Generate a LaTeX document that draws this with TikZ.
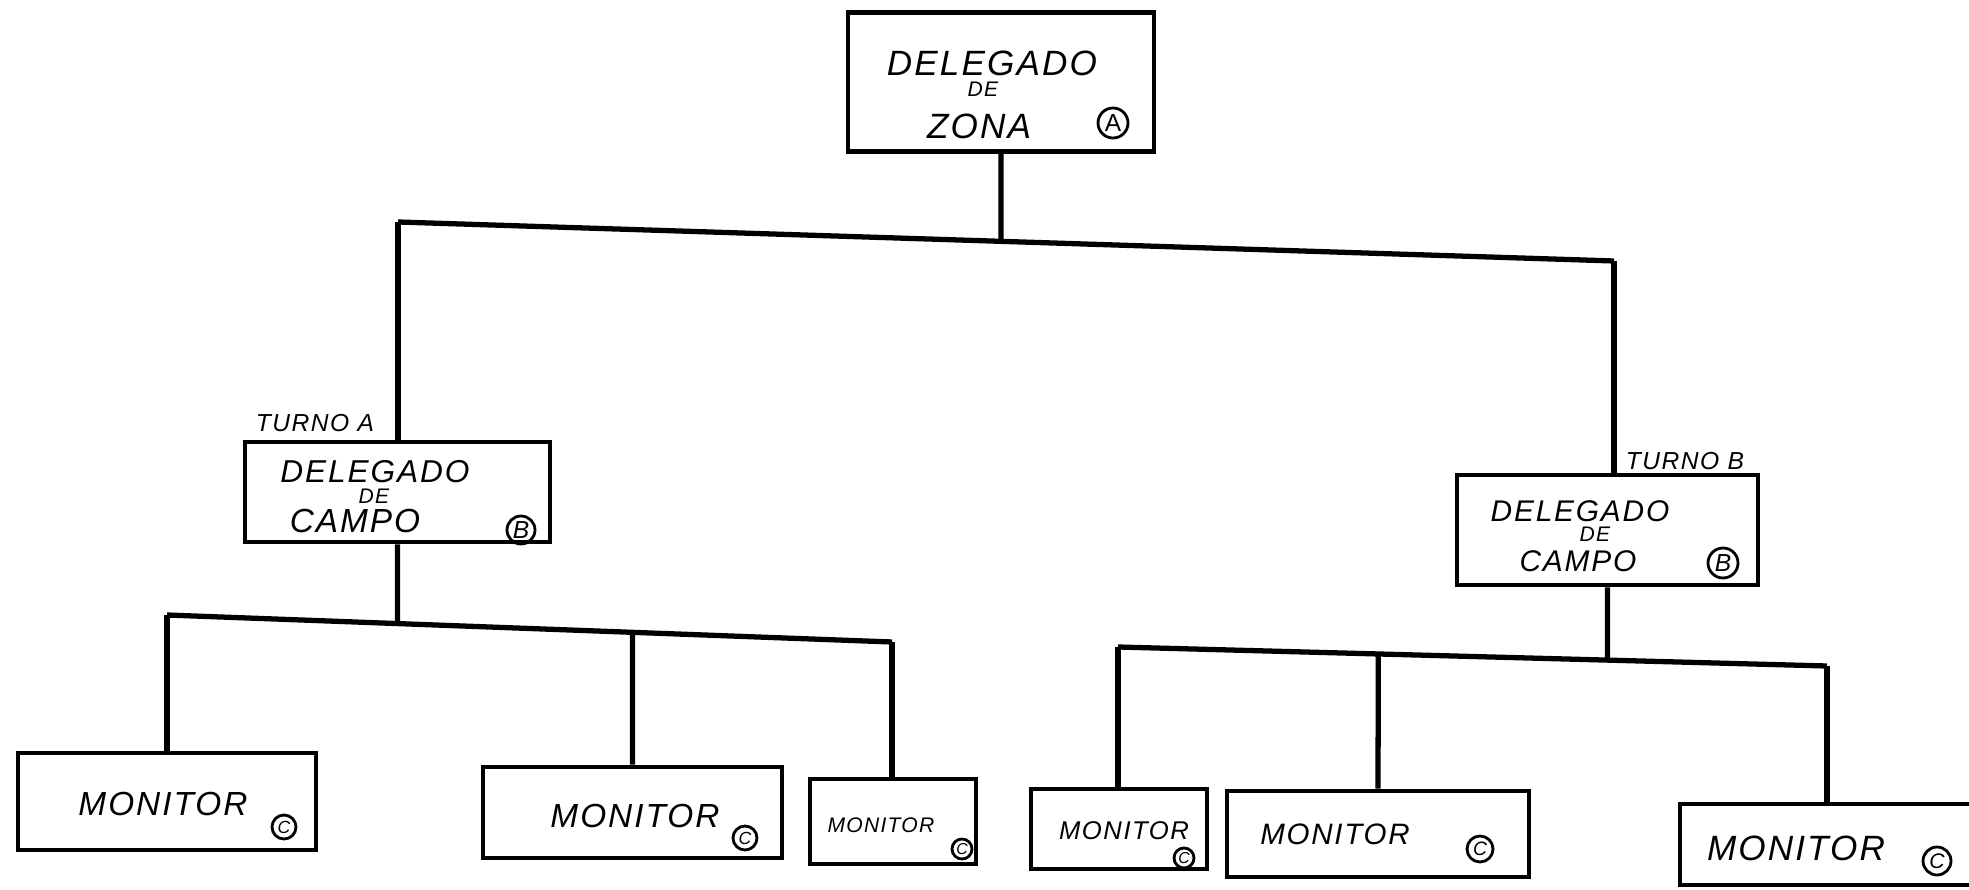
\documentclass[tikz,border=0pt]{standalone}
\usepackage{fontspec}
\setmainfont{Liberation Sans}[LetterSpace=6]
\usetikzlibrary{positioning, calc}

\newcommand{\fs}[1]{\fontsize{#1}{#1}\selectfont}

\begin{document}
\begin{tikzpicture}[
  box/.style={draw, line width=1.3pt, inner sep=0pt},
  link/.style={draw, line width=1.5pt},
  word/.style={inner sep=0pt, font=\itshape},
  tag/.style={draw, circle, line width=0.8pt, inner sep=0pt, minimum size=#1},
  tag/.default=0.24cm
  ]
  \useasboundingbox (0,0) rectangle (19.69,8.89);

  % delegado de zona
  \node[box, minimum width=3.06cm, minimum height=1.39cm] (zona) at (10.01,8.07) {};
  \node[word, font=\itshape\fs{10}] (zona1) at (9.92,8.26) {DELEGADO};
  \node[word, font=\itshape\fs{6}]  (zona2) at (9.83,8.00) {DE};
  \node[word, font=\itshape\fs{10}] (zona3) at (9.79,7.63) {ZONA};
  \node[tag=0.30cm, font=\fs{7}]    (zonaT) at (11.13,7.66) {A};

  % delegados de campo
  \node[box, minimum width=3.05cm, minimum height=1.00cm] (campoA) at (3.975,3.97) {};
  \node[word, font=\itshape\fs{9}]   (campoA1) at (3.75,4.17) {DELEGADO};
  \node[word, font=\itshape\fs{6}]   (campoA2) at (3.74,3.93) {DE};
  \node[word, font=\itshape\fs{9.5}] (campoA3) at (3.55,3.68) {CAMPO};
  \node[tag=0.28cm, font=\itshape\fs{7}] (campoAT) at (5.21,3.59) {B};
  \node[word, font=\itshape\fs{7}]   (turnoA) at (3.15,4.66) {TURNO A};

  \node[box, minimum width=3.01cm, minimum height=1.10cm] (campoB) at (16.075,3.59) {};
  \node[word, font=\itshape\fs{8.5}] (campoB1) at (15.80,3.78) {DELEGADO};
  \node[word, font=\itshape\fs{6}]   (campoB2) at (15.95,3.55) {DE};
  \node[word, font=\itshape\fs{8.5}] (campoB3) at (15.78,3.28) {CAMPO};
  \node[tag=0.30cm, font=\itshape\fs{7}] (campoBT) at (17.23,3.26) {B};
  \node[word, font=\itshape\fs{7}]   (turnoB) at (16.85,4.28) {TURNO B};

  % monitores
  \node[box, minimum width=2.98cm, minimum height=0.97cm] (m1) at (1.67,0.875) {};
  \node[word, font=\itshape\fs{9.5}] (m1w) at (1.63,0.85) {MONITOR};
  \node[tag, font=\itshape\fs{5}]    (m1t) at (2.84,0.62) {C};

  \node[box, minimum width=2.99cm, minimum height=0.91cm] (m2) at (6.325,0.765) {};
  \node[word, font=\itshape\fs{9.5}] (m2w) at (6.35,0.73) {MONITOR};
  \node[tag, font=\itshape\fs{5}]    (m2t) at (7.45,0.51) {C};

  \node[box, minimum width=1.66cm, minimum height=0.85cm] (m3) at (8.93,0.675) {};
  \node[word, font=\itshape\fs{6}]   (m3w) at (8.81,0.64) {MONITOR};
  \node[tag=0.20cm, font=\itshape\fs{4.5}] (m3t) at (9.62,0.40) {C};

  \node[box, minimum width=1.76cm, minimum height=0.80cm] (m4) at (11.19,0.60) {};
  \node[word, font=\itshape\fs{7.3}] (m4w) at (11.24,0.58) {MONITOR};
  \node[tag=0.20cm, font=\itshape\fs{4.5}] (m4t) at (11.84,0.31) {C};

  \node[box, minimum width=3.02cm, minimum height=0.86cm] (m5) at (13.78,0.55) {};
  \node[word, font=\itshape\fs{8.4}] (m5w) at (13.35,0.55) {MONITOR};
  \node[tag=0.26cm, font=\itshape\fs{5.5}] (m5t) at (14.80,0.40) {C};

  \node[box, minimum width=3.10cm, minimum height=0.81cm] (m6) at (18.35,0.445) {};
  \node[word, font=\itshape\fs{10}]  (m6w) at (17.96,0.41) {MONITOR};
  \node[tag=0.28cm, font=\itshape\fs{6}] (m6t) at (19.37,0.28) {C};

  % barras de enlace
  \coordinate (barL) at (3.98,6.67);
  \coordinate (barR) at (16.14,6.28);
  \coordinate (subA1) at (1.67,2.74);
  \coordinate (subA2) at (8.92,2.47);
  \coordinate (subB1) at (11.18,2.42);
  \coordinate (subB2) at (18.27,2.23);

  \draw[link] (barL) -- (barR);
  \draw[link] (zona.south) -- (intersection of zona.north--zona.south and barL--barR);
  \draw[link] (barL) -- (barL |- campoA.north);
  \draw[link] (barR) -- (barR |- campoB.north);

  \draw[link] (subA1) -- (subA2);
  \draw[link] (campoA.south) -- (intersection of campoA.north--campoA.south and subA1--subA2);
  \draw[link] (subA1) -- (subA1 |- m1.north);
  \draw[link] (intersection of m2.north--m2.south and subA1--subA2) -- (m2.north);
  \draw[link] (subA2) -- (subA2 |- m3.north);

  \draw[link] (subB1) -- (subB2);
  \draw[link] (campoB.south) -- (intersection of campoB.north--campoB.south and subB1--subB2);
  \draw[link] (subB1) -- (subB1 |- m4.north);
  \draw[link] (intersection of m5.north--m5.south and subB1--subB2) -- (m5.north);
  \draw[link] (subB2) -- (subB2 |- m6.north);
\end{tikzpicture}
\end{document}
